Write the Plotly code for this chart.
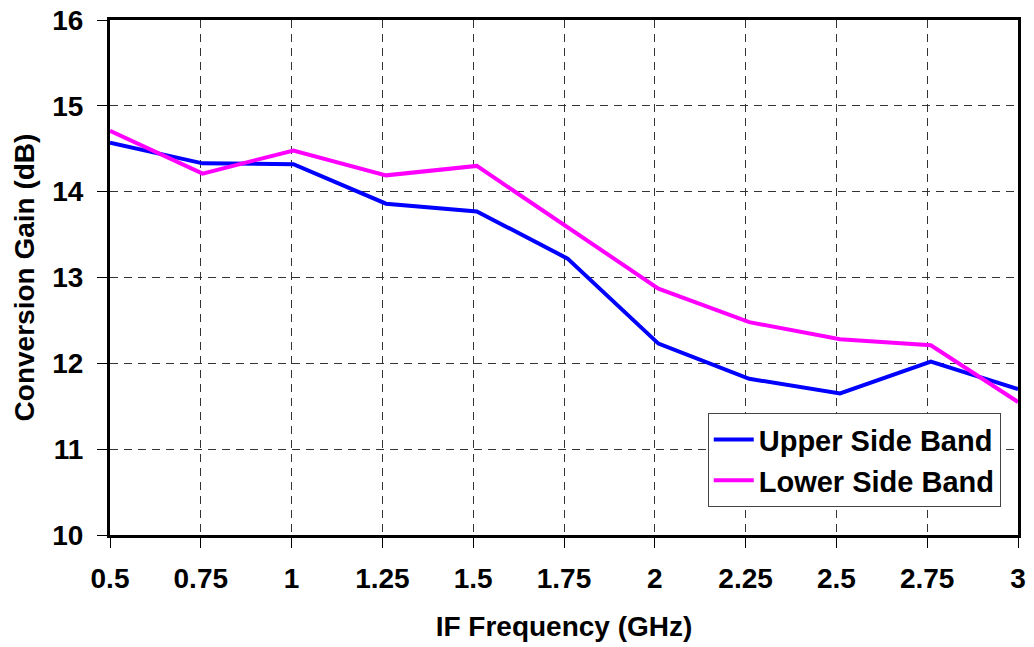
import plotly.graph_objects as go

# IF frequency (GHz) at which each point was measured
freq = [0.5, 0.755, 1.005, 1.26, 1.51, 1.76, 2.01, 2.26, 2.51, 2.76, 3.0]
upper_side_band = [14.57, 14.33, 14.32, 13.86, 13.77, 13.22, 12.23, 11.82, 11.65, 12.02, 11.70]
lower_side_band = [14.71, 14.21, 14.48, 14.19, 14.30, 13.58, 12.87, 12.48, 12.28, 12.21, 11.55]

x_tick_vals = [0.5, 0.75, 1.0, 1.25, 1.5, 1.75, 2.0, 2.25, 2.5, 2.75, 3.0]
x_tick_text = ["0.5", "0.75", "1", "1.25", "1.5", "1.75", "2", "2.25", "2.5", "2.75", "3"]
y_tick_vals = [10, 11, 12, 13, 14, 15, 16]

FONT = "Liberation Sans, Arial, sans-serif"

fig = go.Figure()
fig.add_trace(go.Scatter(x=freq, y=upper_side_band, mode="lines",
                         name="Upper Side Band",
                         line=dict(color="#0000FF", width=4)))
fig.add_trace(go.Scatter(x=freq, y=lower_side_band, mode="lines",
                         name="Lower Side Band",
                         line=dict(color="#FF00FF", width=4)))

fig.update_layout(
    width=1034, height=647,
    margin=dict(l=110, r=16, t=20, b=112),
    paper_bgcolor="white", plot_bgcolor="white",
    font=dict(family=FONT, color="black"),
    showlegend=True,
    legend=dict(
        x=0.981, y=0.054, xanchor="right", yanchor="bottom",
        bgcolor="white", bordercolor="#444", borderwidth=1,
        font=dict(family=FONT, size=29, color="black", weight="bold"),
        tracegroupgap=0, itemwidth=40,
    ),
)

fig.update_xaxes(
    range=[0.5, 3.0], automargin=False,
    tickmode="array", tickvals=x_tick_vals, ticktext=x_tick_text,
    tickfont=dict(family=FONT, size=28, weight="bold"),
    ticklabelstandoff=6,
    title=dict(text="<b>IF Frequency (GHz)</b>", font=dict(family=FONT, size=28), standoff=24),
    showline=True, linecolor="black", linewidth=3, mirror=True,
    ticks="outside", ticklen=10, tickcolor="black", tickwidth=1,
    showgrid=True, gridcolor="#333", gridwidth=1, griddash="8px,6px",
    zeroline=False,
)
fig.update_yaxes(
    range=[10, 16], automargin=False,
    tickmode="array", tickvals=y_tick_vals,
    tickfont=dict(family=FONT, size=28, weight="bold"),
    ticklabelstandoff=8,
    title=dict(text="<b>Conversion Gain (dB)</b>", font=dict(family=FONT, size=28), standoff=10),
    showline=True, linecolor="black", linewidth=3, mirror=True,
    ticks="outside", ticklen=10, tickcolor="black", tickwidth=1,
    showgrid=True, gridcolor="#333", gridwidth=1, griddash="8px,6px",
    zeroline=False,
)

fig.write_html(
    "out.html",
    config={"displayModeBar": False},
    post_script="document.body.style.margin='0';document.body.style.overflow='hidden';",
)
